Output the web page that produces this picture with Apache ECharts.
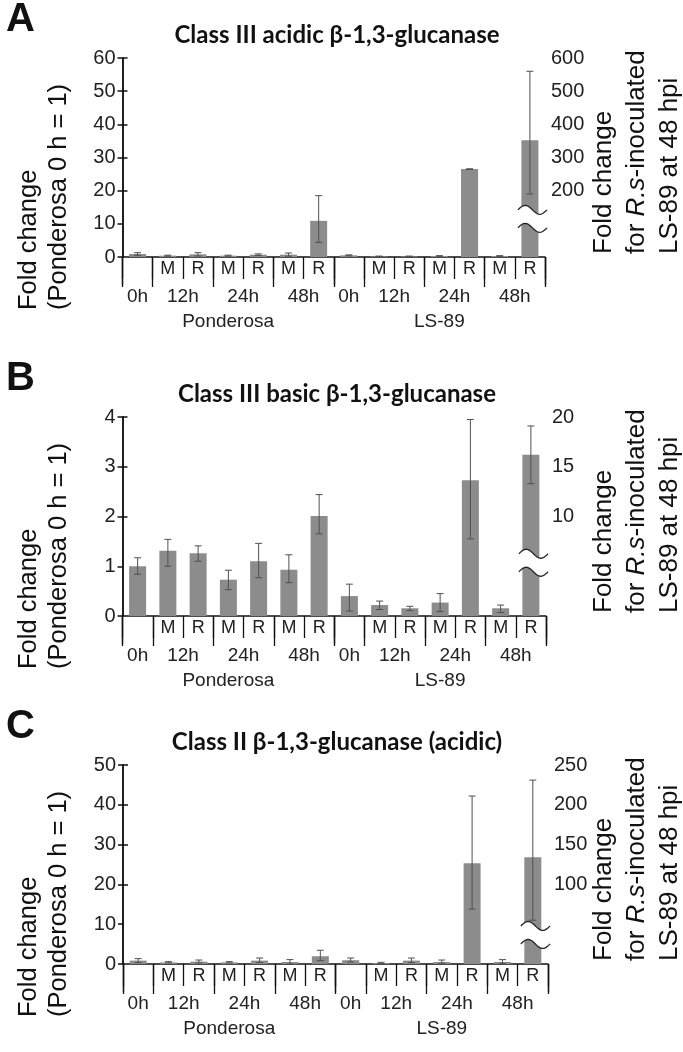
<!DOCTYPE html>
<html><head><meta charset="utf-8">
<script src="https://cdn.jsdelivr.net/npm/echarts@6/dist/echarts.min.js"></script>
<style>html,body{margin:0;padding:0;background:#fff}#c{width:683px;height:1052px}</style>
</head><body><div id="c"></div>
<script>
// ---------- data ----------
const mrLabels = ['', 'M', 'R', 'M', 'R', 'M', 'R', '', 'M', 'R', 'M', 'R', 'M', 'R'];
const timeLabels = ['0h', '12h', '24h', '48h', '0h', '12h', '24h', '48h'];
const timeBounds = [0, 1, 3, 5, 7, 8, 10, 12, 14];
const genotypeLabels = ['Ponderosa', 'LS-89'];
const genotypeBounds = [0, 7, 14];

const panelTitles = ['Class III acidic β-1,3-glucanase', 'Class III basic β-1,3-glucanase', 'Class II β-1,3-glucanase (acidic)'];
const panelLetters = ['A', 'B', 'C'];

// last value of each series is read on the right-hand axis
const aMean = [0.9, 0.4, 0.8, 0.4, 0.7, 0.7, 10.9, 0.5, 0.2, 0.2, 0.3, 26.5, 0.3, 352];
const aLow  = [0.5, 0.25, 0.3, 0.25, 0.45, 0.25, 4.4, 0.35, 0.12, 0.12, 0.2, 26.4, 0.2, 190];
const aHigh = [1.3, 0.55, 1.3, 0.55, 0.95, 1.2, 18.5, 0.65, 0.28, 0.28, 0.4, 26.6, 0.4, 560];

const bMean = [1.0, 1.31, 1.26, 0.73, 1.10, 0.93, 2.01, 0.40, 0.22, 0.155, 0.27, 2.73, 0.155, 16.2];
const bLow  = [0.84, 1.0, 1.10, 0.53, 0.77, 0.67, 1.65, 0.10, 0.13, 0.11, 0.09, 1.55, 0.07, 13.3];
const bHigh = [1.17, 1.54, 1.41, 0.92, 1.46, 1.23, 2.44, 0.64, 0.30, 0.195, 0.45, 3.95, 0.22, 19.1];

const cMean = [0.85, 0.4, 0.6, 0.4, 0.85, 0.5, 1.95, 0.95, 0.25, 0.85, 0.5, 25.3, 0.5, 134];
const cLow  = [0.35, 0.25, 0.25, 0.25, 0.4, 0.0, 0.85, 0.5, 0.08, 0.35, 0.17, 13.8, 0.17, 55];
const cHigh = [1.35, 0.6, 1.0, 0.6, 1.5, 1.1, 3.45, 1.5, 0.42, 1.5, 1.0, 42.2, 1.1, 231];

const leftMax = [60, 4, 50];
const leftStep = [10, 1, 10];
const rightMax = [600, 20, 250];
const rightStep = [100, 5, 50];
const rightTicks = [[200, 300, 400, 500, 600], [10, 15, 20], [100, 150, 200, 250]];
const breakAt = [11.5, 1.07, 7.3]; // left-axis value where the axis break is drawn

const means = [aMean, bMean, cMean];
const lows = [aLow, bLow, cLow];
const highs = [aHigh, bHigh, cHigh];

// ---------- layout ----------
const gridTop = [58, 417, 765];
const gridH = 199;
const gridLeft = [122.5, 122.5, 123];
const gridRightEdge = [545, 546, 548];

const FONT = "'Liberation Sans', Arial, sans-serif";
const BAR = '#8c8c8c';
const AX = '#111';

const centers = (b) => b.slice(0, -1).map((v, i) => (v + b[i + 1]) / 2);
const timeCenters = centers(timeBounds);
const genoCenters = centers(genotypeBounds);
const lookup = (arr, labels) => (v) => {
  for (let i = 0; i < arr.length; i++) if (Math.abs(arr[i] - v) < 1e-6) return labels[i];
  return '';
};

const chart = echarts.init(document.getElementById('c'), null, { renderer: 'canvas' });

const grid = [], xAxis = [], yAxis = [], series = [], title = [];

function errRender(params, api) {
  const x = api.value(0), lo = api.value(1), hi = api.value(2);
  const p1 = api.coord([x, hi]), p2 = api.coord([x, lo]);
  const cw = 3.5;
  const st = { stroke: '#505050', lineWidth: 1 };
  return {
    type: 'group', children: [
      { type: 'line', shape: { x1: p1[0], y1: p1[1], x2: p2[0], y2: p2[1] }, style: st },
      { type: 'line', shape: { x1: p1[0] - cw, y1: p1[1], x2: p1[0] + cw, y2: p1[1] }, style: st },
      { type: 'line', shape: { x1: p2[0] - cw, y1: p2[1], x2: p2[0] + cw, y2: p2[1] }, style: st }
    ]
  };
}

for (let g = 0; g < 3; g++) {
  grid.push({ left: gridLeft[g], width: gridRightEdge[g] - gridLeft[g], top: gridTop[g], height: gridH, containLabel: false });
  const n = means[g].length;
  const cats = mrLabels.map((m, i) => i + '');
  // level 1: M / R
  xAxis.push({
    type: 'category', gridIndex: g, position: 'bottom', data: cats, boundaryGap: true,
    axisLine: { show: true, onZero: false, lineStyle: { color: AX, width: 1.5 } },
    axisTick: { show: true, interval: 0, alignWithLabel: false, length: 22, lineStyle: { color: AX, width: 1.3 } },
    axisLabel: { interval: 0, margin: 3, fontFamily: FONT, fontSize: 18, color: '#222', formatter: (v) => mrLabels[+v] }
  });
  // level 2: time
  xAxis.push({
    type: 'value', gridIndex: g, position: 'bottom', offset: 22, min: 0, max: 14,
    axisLine: { show: false }, splitLine: { show: false },
    axisTick: { show: true, length: 30, customValues: timeBounds, lineStyle: { color: AX, width: 1.3 } },
    axisLabel: { margin: 8, customValues: timeCenters, fontFamily: FONT, fontSize: 19, color: '#222', formatter: lookup(timeCenters, timeLabels) }
  });
  // level 3: genotype
  xAxis.push({
    type: 'value', gridIndex: g, position: 'bottom', offset: 52, min: 0, max: 14,
    axisLine: { show: false }, splitLine: { show: false },
    axisTick: { show: true, length: 28, customValues: genotypeBounds, lineStyle: { color: AX, width: 1.3 } },
    axisLabel: { margin: 3, customValues: genoCenters, fontFamily: FONT, fontSize: 19, color: '#222', formatter: lookup(genoCenters, genotypeLabels) }
  });
  yAxis.push({
    type: 'value', gridIndex: g, position: 'left', min: 0, max: leftMax[g], interval: leftStep[g],
    axisLine: { show: true, lineStyle: { color: AX, width: 1.5 } },
    axisTick: { show: true, length: 5, lineStyle: { color: AX, width: 1.5 } },
    splitLine: { show: false },
    axisLabel: { margin: 7, fontFamily: FONT, fontSize: 20, color: '#222' }
  });
  const rt = rightTicks[g];
  yAxis.push({
    type: 'value', gridIndex: g, position: 'right', min: 0, max: rightMax[g], interval: rightStep[g],
    axisLine: { show: true, lineStyle: { color: AX, width: 1.5 } },
    axisTick: { show: true, length: 5, customValues: rt, lineStyle: { color: AX, width: 1.5 } },
    splitLine: { show: false },
    axisLabel: { margin: 6, customValues: rt, fontFamily: FONT, fontSize: 20, color: '#222', formatter: (v) => (v >= rt[0] ? String(v) : '') }
  });
  const last = n - 1;
  series.push({
    type: 'bar', xAxisIndex: 3 * g, yAxisIndex: 2 * g, barWidth: 17, barGap: '-100%',
    itemStyle: { color: BAR }, silent: true,
    data: means[g].map((v, i) => (i === last ? '-' : v))
  });
  series.push({
    type: 'bar', xAxisIndex: 3 * g, yAxisIndex: 2 * g + 1, barWidth: 17, barGap: '-100%',
    itemStyle: { color: BAR }, silent: true,
    data: means[g].map((v, i) => (i === last ? v : '-'))
  });
  series.push({
    type: 'custom', xAxisIndex: 3 * g, yAxisIndex: 2 * g, z: 5, silent: true, renderItem: errRender,
    data: means[g].map((v, i) => [i, lows[g][i], highs[g][i]]).filter((d) => d[0] !== last)
  });
  series.push({
    type: 'custom', xAxisIndex: 3 * g, yAxisIndex: 2 * g + 1, z: 5, silent: true, renderItem: errRender,
    data: [[last, lows[g][last], highs[g][last]]]
  });
  title.push({
    text: panelTitles[g], left: 332, top: gridTop[g] - 28, textAlign: 'center', textVerticalAlign: 'middle',
    textStyle: { fontFamily: "Lato, 'Open Sans', sans-serif", fontWeight: 'bold', fontSize: 24, color: '#111' }
  });
}

chart.setOption({ animation: false, backgroundColor: '#fff', title, grid, xAxis, yAxis, series });

// ---------- decorations: titles, axis break ----------
const graphic = [];
for (let g = 0; g < 3; g++) {
  const top = gridTop[g];
  graphic.push({
    type: 'text', left: 6, top: top - 58,
    style: { text: panelLetters[g], font: "bold 40px 'Liberation Sans', Arial, sans-serif", fill: '#111' }
  });
  graphic.push({
    type: 'text', x: 44, y: top + 252, rotation: Math.PI / 2,
    style: { text: 'Fold change\n(Ponderosa 0 h = 1)', font: "25.5px 'Liberation Sans', Arial, sans-serif", fill: '#111', align: 'left', verticalAlign: 'middle', lineHeight: 30 }
  });
  graphic.push({
    type: 'text', x: 637, y: top + 196, rotation: Math.PI / 2,
    style: {
      text: 'Fold change\nfor {i|R.s}-inoculated\nLS-89 at 48 hpi',
      font: "26px 'Liberation Sans', Arial, sans-serif", fill: '#111', align: 'left', verticalAlign: 'middle', lineHeight: 33,
      rich: { i: { fontStyle: 'italic', fontFamily: FONT, fontSize: 26, fill: '#111' } }
    }
  });
  // axis break
  const pc = chart.convertToPixel({ xAxisIndex: 3 * g, yAxisIndex: 2 * g }, [13, breakAt[g]]);
  const ax = chart.convertToPixel({ xAxisIndex: 3 * g + 1 }, 14);
  const x0 = pc[0] - 12, x1 = ax + 2;
  const yc = pc[1];
  const gap = 9, amp = 4.5;
  const up = [], lo = [];
  const N = 24;
  for (let k = 0; k <= N; k++) {
    const t = k / N;
    const x = x0 + (x1 - x0) * t;
    const dy = -amp * Math.sin(2 * Math.PI * t);
    up.push([x, yc - gap + dy]);
    lo.push([x, yc + gap + dy]);
  }
  graphic.push({ type: 'polygon', z: 100, shape: { points: up.concat(lo.slice().reverse()) }, style: { fill: '#fff' } });
  graphic.push({ type: 'polyline', z: 101, shape: { points: up }, style: { stroke: '#222', lineWidth: 1.3, fill: null } });
  graphic.push({ type: 'polyline', z: 101, shape: { points: lo }, style: { stroke: '#222', lineWidth: 1.3, fill: null } });
}
chart.setOption({ graphic });
</script>
</body></html>
